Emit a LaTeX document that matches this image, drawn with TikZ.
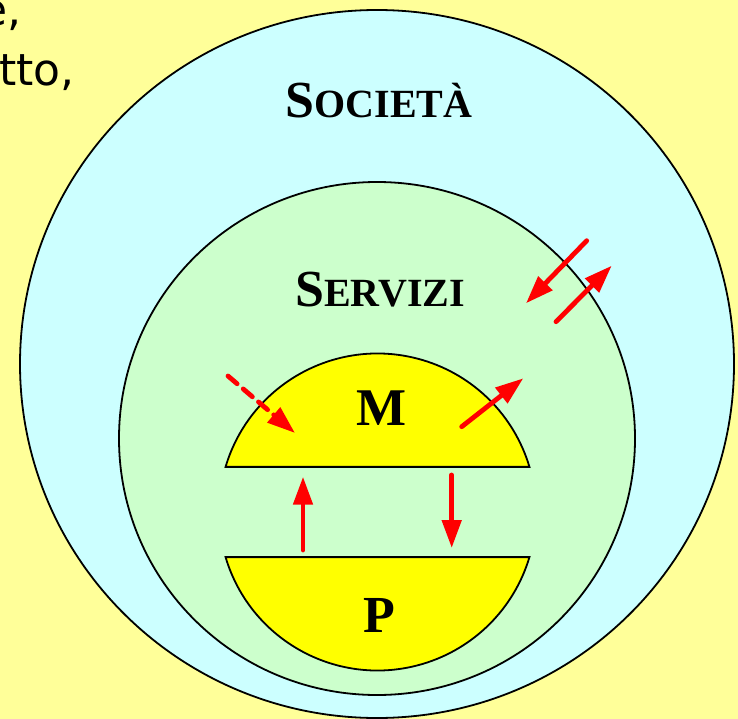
\documentclass[tikz,border=0pt]{standalone}
\usepackage{fontspec}
\setmainfont{Liberation Serif}
\newfontfamily\mano{DejaVu Sans}
\usetikzlibrary{arrows.meta}
\definecolor{sfondo}{HTML}{FFFF99}
\definecolor{ciano}{HTML}{CCFFFF}
\definecolor{verde}{HTML}{CCFFCC}
\definecolor{giallo}{HTML}{FFFF00}
\newcommand{\maiusc}[2]{{\fontsize{52}{52}\selectfont #1}{\fontsize{40}{40}\selectfont #2}}
\tikzset{
  bordo/.style={draw=black, line width=1.8pt},
  titolo/.style={inner sep=0pt, anchor=base, font=\bfseries},
  freccia/.style={red, line width=4.8pt, line cap=round, -{Triangle[length=28pt,width=19pt]}},
  scritta/.style={inner sep=0pt, anchor=base west, font=\mano\fontsize{44}{44}\selectfont}
}
\begin{document}
\begin{tikzpicture}[x=1pt,y=1pt]
  \useasboundingbox (0,0) rectangle (738,-719);
  \fill [sfondo] (0,0) rectangle (738,-719);
  \node[scritta] (riga1) at (-20,-26) {e,};
  \node[scritta] (riga2) at (-1,-86) {tto,};
  \filldraw [ciano, bordo] (377,-364) ellipse [x radius=357, y radius=354];
  \filldraw [verde, bordo] (377,-438.5) ellipse [x radius=258, y radius=256.5];
  \filldraw [giallo, bordo] (377.5,-512) ++(163.46:158.5) arc [start angle=163.46, end angle=16.54, radius=158.5] -- cycle;
  \filldraw [giallo, bordo] (377.5,-512) ++(196.54:158.5) arc [start angle=196.54, end angle=343.46, radius=158.5] -- cycle;
  \node[titolo] (societa) at (379,-117.5) {\maiusc{S}{OCIETÀ}};
  \node[titolo] (servizi) at (380,-306.5) {\maiusc{S}{ERVIZI}};
  \node[titolo, font=\bfseries\fontsize{53}{53}\selectfont] (M) at (381.5,-425) {M};
  \node[titolo, font=\bfseries\fontsize{52}{52}\selectfont] (P) at (379.5,-632) {P};
  \coordinate (inA) at (228,-376);
  \coordinate (inB) at (295,-433);
  \coordinate (outA) at (461.7,-426.7);
  \coordinate (outB) at (523.3,-378.3);
  \coordinate (suA) at (303,-550);
  \coordinate (suB) at (303,-476.7);
  \coordinate (giuA) at (451.7,-475);
  \coordinate (giuB) at (451.7,-548);
  \coordinate (entraA) at (586.7,-240.7);
  \coordinate (entraB) at (526,-303.3);
  \coordinate (esceA) at (556,-321.7);
  \coordinate (esceB) at (611.7,-265.7);
  \draw [freccia, dash pattern=on 12pt off 8pt] (inA) -- (inB);
  \draw [freccia] (outA) -- (outB);
  \draw [freccia] (suA) -- (suB);
  \draw [freccia] (giuA) -- (giuB);
  \draw [freccia] (entraA) -- (entraB);
  \draw [freccia] (esceA) -- (esceB);
\end{tikzpicture}
\end{document}
